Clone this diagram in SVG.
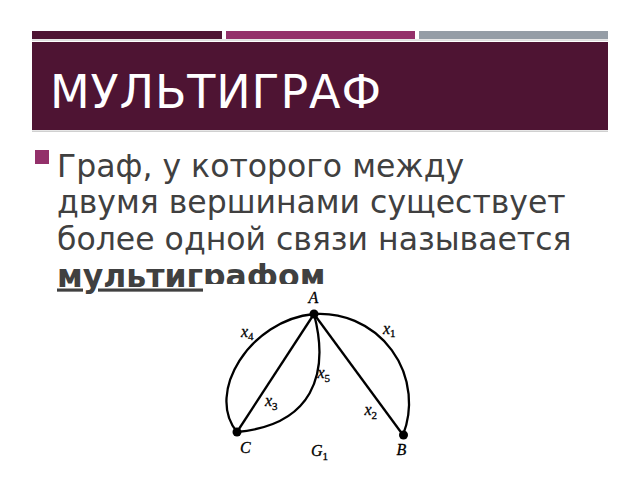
<svg xmlns="http://www.w3.org/2000/svg" width="640" height="480" viewBox="0 0 640 480">
<style>
.body{font-family:"DejaVu Sans","Liberation Sans",sans-serif;font-size:31.5px;fill:#404040}
.lbl{font-family:"Liberation Serif","Times New Roman",serif;font-style:italic;font-size:16px;fill:#000;stroke:#000;stroke-width:0.3}
.sub{font-family:"Liberation Serif","Times New Roman",serif;font-style:normal;font-size:11px}
.edge{fill:none;stroke:#000;stroke-width:2.3}
.v{fill:#000}
</style>
<rect width="640" height="480" fill="#fff"/>
<g id="header">
<rect x="32" y="31" width="190" height="8" fill="#4e1433"/>
<rect x="226" y="31" width="189" height="8" fill="#94306a"/>
<rect x="419" y="31" width="189" height="8" fill="#959da6"/>
<rect x="32" y="39.5" width="576" height="1.2" fill="#cfcfcf"/>
<rect x="32" y="42" width="576" height="88" fill="#4e1433"/>
<rect x="32" y="130.5" width="576" height="1.5" fill="#d0d0d0"/>
<text x="50" y="108" font-family="DejaVu Sans,Liberation Sans,sans-serif" font-size="46" fill="#fff" textLength="331">МУЛЬТИГРАФ</text>
</g>
<g id="bodytext">
<rect x="35" y="150" width="14" height="14" fill="#93306a"/>
<text class="body" x="57" y="176.5">Граф, у которого между</text>
<text class="body" x="57" y="213">двумя вершинами существует</text>
<text class="body" x="57" y="250">более одной связи называется</text>
<text class="body" x="57" y="286.5" font-weight="bold" text-decoration="underline">мультиграфом</text>
</g>
<rect x="204" y="284" width="220" height="190" fill="#fff"/>
<g id="edges">
<path class="edge" d="M314,314 C250,320 205,393 237,432"/>
<path class="edge" d="M314,314 A89,89 0 0 1 403,435"/>
<path class="edge" d="M314,314 L237,432"/>
<path class="edge" d="M314,314 L403,435"/>
<path class="edge" d="M314,314 C330,375 312,425 237,432"/>
</g>
<g id="edge-labels">
<text class="lbl" x="241" y="337">x<tspan class="sub" dy="3">4</tspan></text>
<text class="lbl" x="383" y="333.5">x<tspan class="sub" dy="3.5">1</tspan></text>
<text class="lbl" x="317.5" y="378">x<tspan class="sub" dy="4">5</tspan></text>
<text class="lbl" x="265" y="406">x<tspan class="sub" dy="4">3</tspan></text>
<text class="lbl" x="364.5" y="415">x<tspan class="sub" dy="3.5">2</tspan></text>
</g>
<g id="node-A"><circle class="v" cx="314" cy="314" r="4.5"/><text class="lbl" x="308.5" y="303">A</text></g>
<g id="node-C"><circle class="v" cx="237" cy="432" r="4.5"/><text class="lbl" x="240" y="453">C</text></g>
<g id="node-B"><circle class="v" cx="403.5" cy="435" r="4.5"/><text class="lbl" x="396.5" y="455">B</text></g>
<g id="graph-name"><text class="lbl" x="311" y="456">G<tspan class="sub" dy="3.5">1</tspan></text></g>
</svg>
